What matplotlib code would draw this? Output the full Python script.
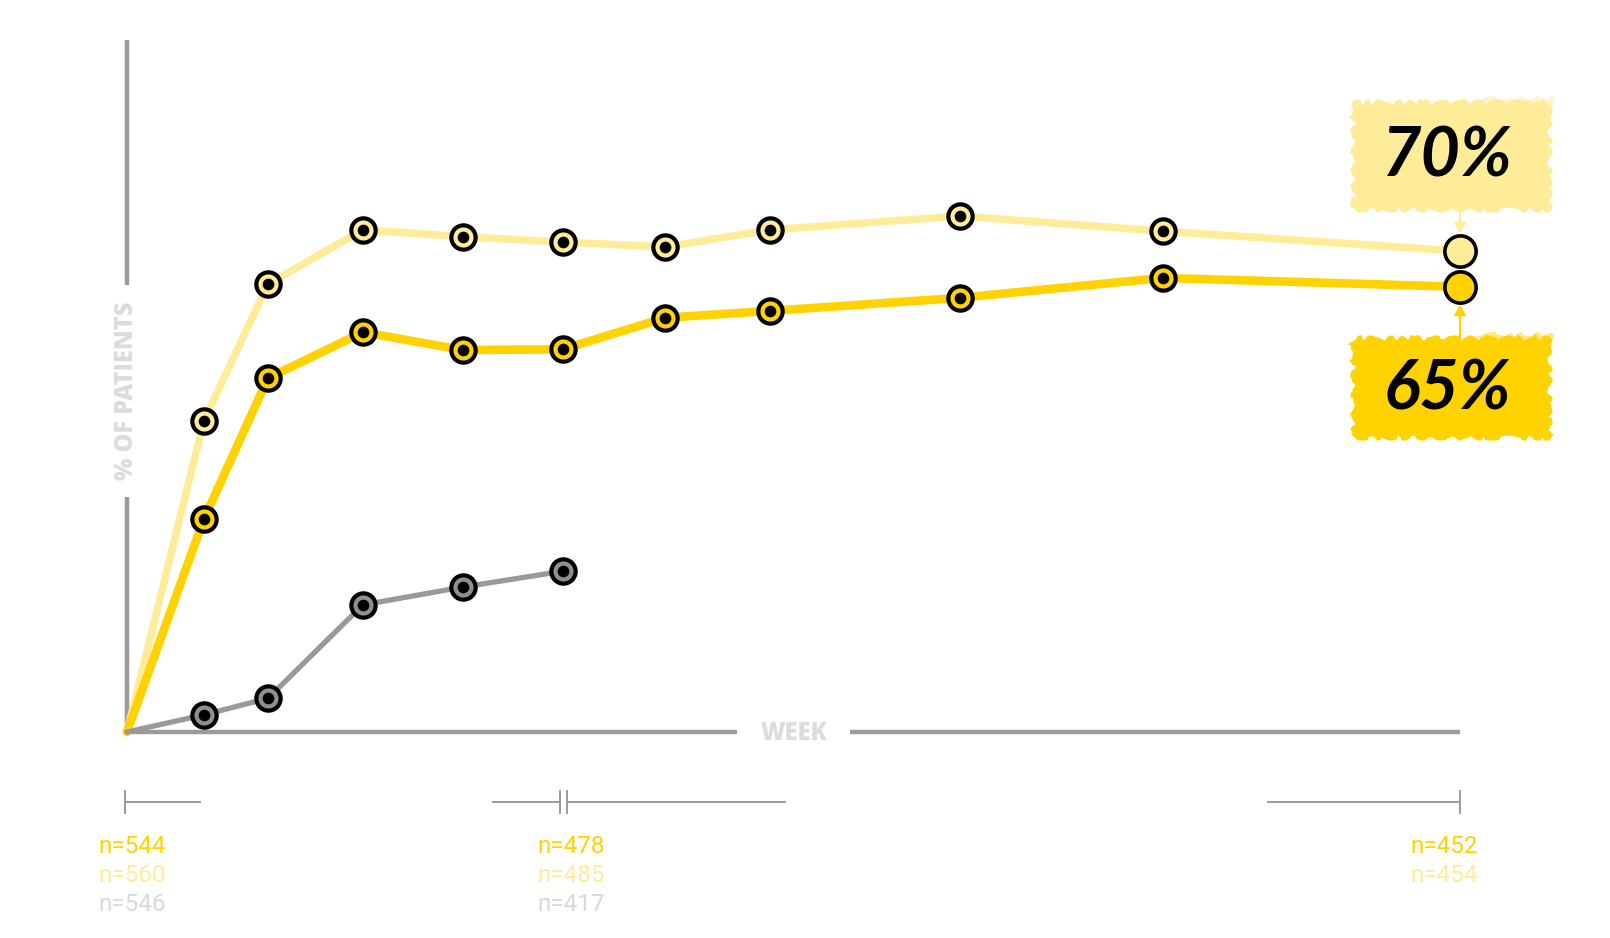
import matplotlib
matplotlib.use('Agg')
import matplotlib.pyplot as plt
from matplotlib.patches import Rectangle
import matplotlib.transforms as mtransforms

# ---------------- data ----------------
weeks = [0, 3.0, 5.5, 9.2, 13.1, 17.0, 21.0, 25.1, 32.5, 40.4, 52.0]
arm_light = [0, 45.3, 65.2, 73.1, 72.1, 71.3, 70.6, 73.1, 75.1, 72.9, 70.0]
arm_gold = [0, 31.0, 51.5, 58.2, 55.6, 55.7, 60.3, 61.3, 63.2, 66.1, 64.8]
arm_gray = [0, 2.5, 4.9, 18.5, 21.1, 23.4]
final_labels = ["70%", "65%"]
n_gold = ["n=544", "n=478", "n=452"]
n_light = ["n=560", "n=485", "n=454"]
n_gray = ["n=546", "n=417"]
n_weeks = [0, 17.0, 52.0]

GOLD = "#FFD200"
LIGHT = "#FFEC99"
GRAY = "#999999"
GRAYFILL = "#8f8f8f"
NGRAY = "#d9d9d9"
AXGRAY = "#9b9b9b"

W, H = 1610, 938
fig = plt.figure(figsize=(W / 100, H / 100), dpi=100)
fig.patch.set_facecolor("white")


def fx(px):
    return px / W


def fy(py):
    return 1 - py / H


ax = fig.add_axes([fx(127), fy(732), fx(1460) - fx(127), fy(40) - fy(732)])
ax.set_xlim(0, 52)
ax.set_ylim(0, 692 / 6.87)
ax.axis("off")

# axes lines with gaps
ax.plot([0, 0], [0, 34.2], color=AXGRAY, lw=3.2, solid_capstyle="butt", clip_on=False)
ax.plot([0, 0], [65.1, 100.7], color=AXGRAY, lw=3.2, solid_capstyle="butt", clip_on=False)
ax.plot([0, 23.8], [0, 0], color=AXGRAY, lw=3.2, solid_capstyle="butt", clip_on=False, zorder=1)
ax.plot([28.2, 52], [0, 0], color=AXGRAY, lw=3.2, solid_capstyle="butt", clip_on=False, zorder=1)
fig.text(fx(794), fy(733), "WEEK", ha="center", va="center", color="#dcdcdc",
         fontsize=17, fontweight="heavy", family=["Open Sans", "DejaVu Sans"])
fig.text(fx(126), fy(391), "% OF PATIENTS", ha="center", va="center", rotation=90,
         color="#dcdcdc", fontsize=17, fontweight="heavy", family=["Open Sans", "DejaVu Sans"])


def series(xs, ys, color, lw, fill, last_big):
    ax.plot(xs, ys, color=color, lw=lw, solid_joinstyle="round", solid_capstyle="round",
            zorder=3, clip_on=False)
    end = len(xs) - 1 if last_big else len(xs)
    ax.plot(xs[1:end], ys[1:end], ls="none", marker="o", ms=17.5, mfc=fill, mec="black",
            mew=3.0, zorder=4, clip_on=False)
    ax.plot(xs[1:end], ys[1:end], ls="none", marker="o", ms=8.4, mfc="black", mec="black",
            mew=0, zorder=5, clip_on=False)
    if last_big:
        ax.plot(xs[-1:], ys[-1:], ls="none", marker="o", ms=22.5, mfc=fill, mec="black",
                mew=2.6, zorder=4, clip_on=False)


series(weeks, arm_light, LIGHT, 5.4, LIGHT, True)
series(weeks, arm_gold, GOLD, 6.2, GOLD, True)
series(weeks[:len(arm_gray)], arm_gray, GRAY, 3.8, GRAYFILL, False)

# brush boxes with labels
for (x0, y0, x1, y1), col, lab, ty in [((1355, 104, 1548, 208), LIGHT, final_labels[0], 157),
                                        ((1355, 340, 1548, 436), GOLD, final_labels[1], 390)]:
    r = Rectangle((fx(x0), fy(y1)), fx(x1) - fx(x0), fy(y0) - fy(y1), transform=fig.transFigure,
                  facecolor=col, edgecolor=col, lw=3, zorder=2)
    r.set_sketch_params(scale=2.5, length=40, randomness=12)
    fig.patches.append(r)
    # faint brush tail at top right
    r2 = Rectangle((fx(x0 + 120), fy(y0 + 6)), fx(x1 + 4) - fx(x0 + 120), fy(y0 - 6) - fy(y0 + 6),
                   transform=fig.transFigure, facecolor=col, edgecolor="none", alpha=0.5, zorder=2)
    r2.set_sketch_params(scale=2, length=30, randomness=10)
    fig.patches.append(r2)
    fig.text(fx(1447), fy(ty), lab, ha="center", va="center", fontsize=49,
             fontweight="bold", style="italic", color="black",
             family=["Lato", "DejaVu Sans"], zorder=3)

# arrows
ax.annotate("", xy=(weeks[-1], arm_light[-1]), xytext=(0, 30), textcoords="offset points",
            arrowprops=dict(arrowstyle="-|>,head_width=0.35,head_length=0.6", color=LIGHT, lw=1.5,
                            shrinkA=0, shrinkB=13), zorder=2)
ax.annotate("", xy=(weeks[-1], arm_gold[-1]), xytext=(0, -38), textcoords="offset points",
            arrowprops=dict(arrowstyle="-|>,head_width=0.35,head_length=0.6", color=GOLD, lw=1.5,
                            shrinkA=0, shrinkB=13), zorder=2)

# bottom brackets
bt = mtransforms.blended_transform_factory(ax.transData, fig.transFigure)
brackets = [(-0.08, 2.85, -0.08), (14.28, 16.9, 16.9), (17.17, 25.67, 17.17), (44.5, 52.0, 52.0)]
for a, b, t in brackets:
    ax.plot([a, b], [fy(802), fy(802)], color=AXGRAY, lw=1.4, transform=bt, clip_on=False)
    ax.plot([t, t], [fy(791), fy(813)], color=AXGRAY, lw=1.4, transform=bt, clip_on=False)

# n labels
lab_off = [(-29, "left"), (-25, "left"), (18, "right")]
for i, wk in enumerate(n_weeks):
    off, ha = lab_off[i]
    tr = bt + mtransforms.ScaledTranslation(off / 100, 0, fig.dpi_scale_trans)
    for row, (lst, col) in enumerate([(n_gold, GOLD), (n_light, LIGHT), (n_gray, NGRAY)]):
        if i < len(lst):
            ax.text(wk, fy(846 + 29 * row), lst[i], transform=tr, ha=ha, va="center",
                    color=col, fontsize=17.5, family=["Roboto", "DejaVu Sans"], clip_on=False)

fig.savefig("out.png", dpi=100, facecolor="white")
